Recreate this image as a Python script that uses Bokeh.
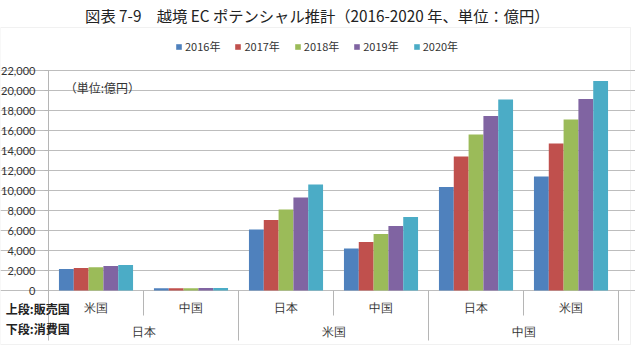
from bokeh.plotting import figure
from bokeh.models import (Range1d, FixedTicker, NumeralTickFormatter, Legend,
                          LegendItem, Label, BoxAnnotation, ColumnDataSource,
                          LinearAxis)
from bokeh.embed import file_html
from bokeh.resources import INLINE
import numpy as np

# Cross-border EC potential, 100 million yen
sellers = ["米国", "中国", "日本", "中国", "日本", "米国"]      # upper row: seller country
consumers = ["日本", "米国", "中国"]                              # lower row: consumer country
years = ["2016年", "2017年", "2018年", "2019年", "2020年"]
y2016 = [2150, 220, 6100, 4200, 10350, 11400]
y2017 = [2250, 230, 7050, 4850, 13400, 14700]
y2018 = [2330, 235, 8100, 5650, 15600, 17100]
y2019 = [2450, 240, 9300, 6450, 17450, 19150]
y2020 = [2550, 250, 10600, 7350, 19100, 20950]
y_ticks = [0, 2000, 4000, 6000, 8000, 10000, 12000, 14000, 16000, 18000, 20000, 22000]

series = [y2016, y2017, y2018, y2019, y2020]
colors = ["#4F81BD", "#C0504D", "#9BBB59", "#8064A2", "#4BACC6"]

JP = "Noto Sans CJK JP"
NUM = "Lato"
n = len(sellers)
y_top = y_ticks[-1]
y_bottom = -5000          # bottom of the two-row category area

# the frame fills the whole canvas; the value axis sits at x = 0
p = figure(width=635, height=346, output_backend="svg", toolbar_location=None,
           x_range=Range1d(-48 / 95, 587 / 95), y_range=Range1d(-5600, 29000),
           x_axis_location=None, y_axis_location=None,
           min_border_left=0, min_border_right=0, min_border_top=0,
           min_border_bottom=0, title=None)
p.outline_line_color = None
p.background_fill_color = "white"
p.border_fill_color = "white"
p.xgrid.visible = False

ticker = FixedTicker(ticks=y_ticks)
yax = LinearAxis(ticker=ticker, formatter=NumeralTickFormatter(format="0,0"),
                 fixed_location=0, bounds=(y_bottom, y_top))
yax.major_label_text_font = NUM
yax.major_label_text_font_size = "11px"
yax.major_label_text_color = "#333333"
yax.major_tick_out = 4
yax.major_tick_in = 0
yax.minor_tick_line_color = None
yax.major_label_standoff = 9
yax.axis_line_color = "#b5b5b5"
yax.major_tick_line_color = "#b5b5b5"
p.add_layout(yax, "left")

p.ygrid.ticker = ticker
p.ygrid.bounds = (0, n)
p.ygrid.grid_line_color = "#bdbdbd"
p.ygrid.grid_line_width = 1

# clustered bars
bw = 0.156
idx = np.arange(n)
items = []
for j, (vals, col, yr) in enumerate(zip(series, colors, years)):
    src = ColumnDataSource(dict(x=idx + 0.5 + (j - 2) * bw, top=vals))
    r = p.vbar(x="x", top="top", width=bw, bottom=0, source=src,
               fill_color=col, line_color=None)
    items.append(LegendItem(label=yr, renderers=[r]))

legend = Legend(items=items, orientation="horizontal", location=(175, 292),
                glyph_width=7, glyph_height=7, label_standoff=3, spacing=14,
                padding=0, margin=0, border_line_color=None,
                background_fill_alpha=0, label_text_font=JP,
                label_text_font_size="11px", label_text_color="#333333")
p.add_layout(legend, "center")

# two-level category axis drawn below the zero line
seller_src = ColumnDataSource(dict(x=idx + 0.5, y=[-1700] * n, t=sellers))
p.text(x="x", y="y", text="t", source=seller_src, text_align="center",
       text_baseline="middle", text_font=JP, text_font_size="12px",
       text_color="#333333")
g = np.arange(len(consumers))
cons_src = ColumnDataSource(dict(x=g * 2 + 1.0, y=[-4100] * len(consumers), t=consumers))
p.text(x="x", y="y", text="t", source=cons_src, text_align="center",
       text_baseline="middle", text_font=JP, text_font_size="12px",
       text_color="#333333")

minor_x = list(g * 2 + 1.0)
major_x = list(g * 2 + 2.0)
p.segment(x0=minor_x, x1=minor_x, y0=[0] * len(minor_x), y1=[-2500] * len(minor_x),
          line_color="#b5b5b5", line_width=1)
p.segment(x0=major_x, x1=major_x, y0=[0] * len(major_x), y1=[y_bottom] * len(major_x),
          line_color="#b5b5b5", line_width=1)

# annotations
p.add_layout(Label(x=0.17, y=20300, text="（単位:億円）", text_font=JP,
                   text_font_size="12px", text_color="#333333",
                   text_baseline="middle"))
p.add_layout(Label(x=-0.45, y=-1800, text="上段:販売国", text_font=JP,
                   text_font_size="12px", text_font_style="bold",
                   text_color="#222222", text_baseline="middle"))
p.add_layout(Label(x=-0.45, y=-3800, text="下段:消費国", text_font=JP,
                   text_font_size="12px", text_font_style="bold",
                   text_color="#222222", text_baseline="middle"))
p.add_layout(Label(x=2.83, y=27600,
                   text="図表 7-9　越境 EC ポテンシャル推計（2016-2020 年、単位：億円）",
                   text_font=JP, text_font_size="15.3px", text_color="#222222",
                   text_align="center", text_baseline="middle"))

# chart area border
p.add_layout(BoxAnnotation(left=-48 / 95, right=582 / 95, top=26300, bottom=-5400,
                           fill_alpha=0, line_color="#cfcfcf", line_width=1,
                           level="underlay"))

open("out.html", "w").write(file_html(p, INLINE))
